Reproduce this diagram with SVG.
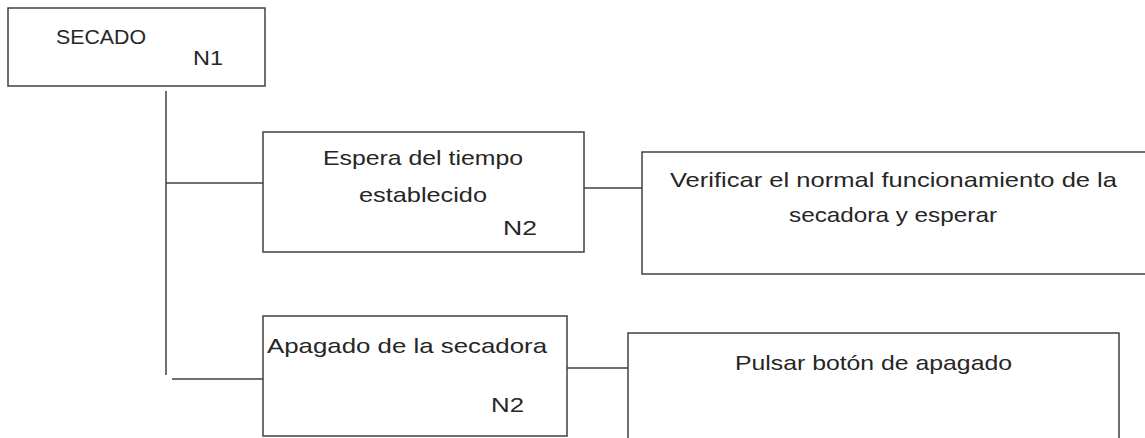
<svg xmlns="http://www.w3.org/2000/svg" width="1145" height="438" viewBox="0 0 1145 438">
<style>
.box{fill:#ffffff;stroke:#404040;stroke-width:1.5}
.ln{fill:none;stroke:#404040;stroke-width:1.5}
text{font-family:"Liberation Sans",Arial,sans-serif;font-size:21px;fill:#262626}
</style>
<rect x="0" y="0" width="1145" height="438" fill="#ffffff"/>
<g id="connectors">
<line class="ln" x1="166" y1="91" x2="166" y2="375"/>
<line class="ln" x1="166" y1="183" x2="263" y2="183"/>
<line class="ln" x1="172" y1="379" x2="263" y2="379"/>
<line class="ln" x1="584" y1="188" x2="645" y2="188"/>
<line class="ln" x1="567" y1="368" x2="628" y2="368"/>
</g>
<g id="n1">
<rect class="box" x="8" y="8" width="257" height="78"/>
<text x="56" y="44" textLength="90" lengthAdjust="spacingAndGlyphs">SECADO</text>
<text x="193" y="65" textLength="30" lengthAdjust="spacingAndGlyphs">N1</text>
</g>
<g id="espera">
<rect class="box" x="263" y="132" width="321" height="120"/>
<text x="323" y="165" textLength="200" lengthAdjust="spacingAndGlyphs">Espera del tiempo</text>
<text x="359" y="202" textLength="128" lengthAdjust="spacingAndGlyphs">establecido</text>
<text x="503" y="235" textLength="34" lengthAdjust="spacingAndGlyphs">N2</text>
</g>
<g id="verificar">
<rect class="box" x="642" y="152" width="520" height="122"/>
<text x="670" y="187" textLength="447" lengthAdjust="spacingAndGlyphs">Verificar el normal funcionamiento de la</text>
<text x="789" y="222" textLength="208" lengthAdjust="spacingAndGlyphs">secadora y esperar</text>
</g>
<g id="apagado">
<rect class="box" x="263" y="316" width="304" height="120"/>
<text x="267" y="353" textLength="280" lengthAdjust="spacingAndGlyphs">Apagado de la secadora</text>
<text x="491" y="412" textLength="33" lengthAdjust="spacingAndGlyphs">N2</text>
</g>
<g id="pulsar">
<rect class="box" x="628" y="333" width="491" height="130"/>
<text x="735" y="370" textLength="277" lengthAdjust="spacingAndGlyphs">Pulsar botón de apagado</text>
</g>
</svg>
